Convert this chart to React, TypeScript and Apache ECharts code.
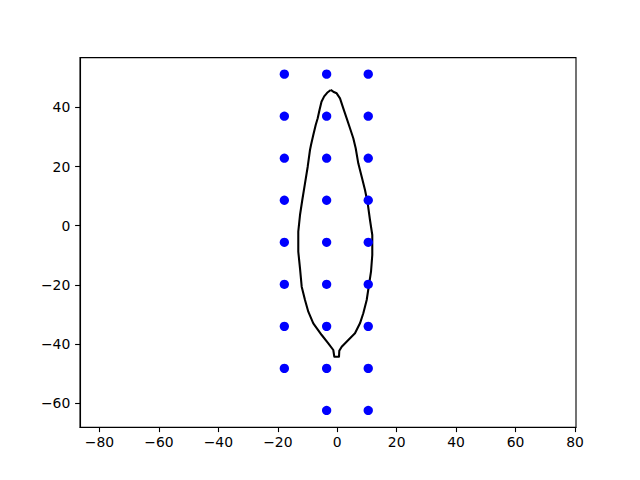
import React, { useEffect, useRef } from "react";
import * as echarts from "echarts";

const xTicks = [-80, -60, -40, -20, 0, 20, 40, 60, 80];
const yTicks = [-60, -40, -20, 0, 20, 40];

const colLeftX = -17.8;
const colMidX = -3.57;
const colRightX = 10.43;
const rowYs = [51.2, 37.0, 22.8, 8.6, -5.6, -19.8, -34.0, -48.2, -62.4];
const leftColRows = [51.2, 37.0, 22.8, 8.6, -5.6, -19.8, -34.0, -48.2];

const outlineX = [
  -2.2, -1.33, -0.19, 0.93, 2.04, 3.18, 4.29, 5.4, 6.21, 7.08, 8.23, 9.34, 10.25, 11.02, 11.79,
  11.79, 11.36, 10.68, 9.91, 8.77, 7.65, 5.97, 3.72, 1.5, 0.69, 0.59, -0.99, -1.33, -3.01, -5.23,
  -8.06, -9.74, -10.85, -11.96, -12.53, -13.11, -13.11, -12.53, -11.76, -10.85, -9.94, -9.17,
  -8.83, -8.06, -7.25, -6.58, -5.95, -5.3, -4.4, -3.4, -2.2,
];
const outlineY = [
  45.85, 45.27, 44.73, 43.04, 39.66, 36.28, 32.91, 29.53, 26.15, 21.08, 16.55, 12.06, 7.57, 1.93,
  -3.14, -9.9, -15.54, -20.03, -25.1, -29.59, -32.97, -36.35, -38.61, -40.88, -42.23, -44.26,
  -44.26, -41.99, -39.73, -36.93, -32.97, -29.05, -25.1, -20.61, -14.39, -8.78, -2.03, 3.61,
  8.68, 14.32, 19.93, 25.57, 27.26, 30.64, 34.02, 36.28, 39.2, 41.9, 43.7, 44.9, 45.85,
];

const fmt = (v: number) => (v < 0 ? "\u2212" + Math.abs(v) : String(v));

export default function App() {
  const ref = useRef<HTMLDivElement>(null);
  useEffect(() => {
    if (!ref.current) return;
    const chart = echarts.init(ref.current, undefined, { renderer: "svg" });
    const dots: number[][] = [];
    leftColRows.forEach((y) => dots.push([colLeftX, y]));
    rowYs.forEach((y) => dots.push([colMidX, y]));
    rowYs.forEach((y) => dots.push([colRightX, y]));
    const outline = outlineX.map((x, i) => [x, outlineY[i]]);
    const labelStyle = {
      color: "#000",
      fontFamily: "DejaVu Sans",
      fontSize: 13.9,
    };
    chart.setOption({
      animation: false,
      backgroundColor: "#fff",
      grid: {
        left: 80,
        right: 64,
        top: 57.6,
        bottom: 52.8,
        show: true,
        borderColor: "#000",
        borderWidth: 1.1,
        backgroundColor: "transparent",
      },
      xAxis: {
        type: "value",
        min: -86.56,
        max: 80.34,
        splitLine: { show: false },
        axisLine: { show: true, onZero: false, lineStyle: { color: "#000", width: 1.1 } },
        axisTick: {
          show: true,
          inside: false,
          length: 4.9,
          customValues: xTicks,
          lineStyle: { color: "#000", width: 1.1 },
        },
        axisLabel: { ...labelStyle, margin: 8, customValues: xTicks, formatter: fmt },
      },
      yAxis: {
        type: "value",
        min: -68.07,
        max: 56.79,
        splitLine: { show: false },
        axisLine: { show: true, onZero: false, lineStyle: { color: "#000", width: 1.1 } },
        axisTick: {
          show: true,
          inside: false,
          length: 4.9,
          customValues: yTicks,
          lineStyle: { color: "#000", width: 1.1 },
        },
        axisLabel: { ...labelStyle, margin: 9.7, customValues: yTicks, formatter: fmt },
      },
      series: [
        {
          type: "line",
          data: outline,
          showSymbol: false,
          symbol: "none",
          lineStyle: { color: "#000", width: 2.08, join: "round" },
          clip: true,
          z: 2,
        },
        {
          type: "scatter",
          data: dots,
          symbolSize: 9.3,
          itemStyle: { color: "#0000ff", opacity: 1 },
          z: 3,
        },
      ],
    });
    return () => chart.dispose();
  }, []);
  return (
    <div
      ref={ref}
      style={{ position: "fixed", left: 0, top: 0, width: 640, height: 480, background: "#fff" }}
    />
  );
}
